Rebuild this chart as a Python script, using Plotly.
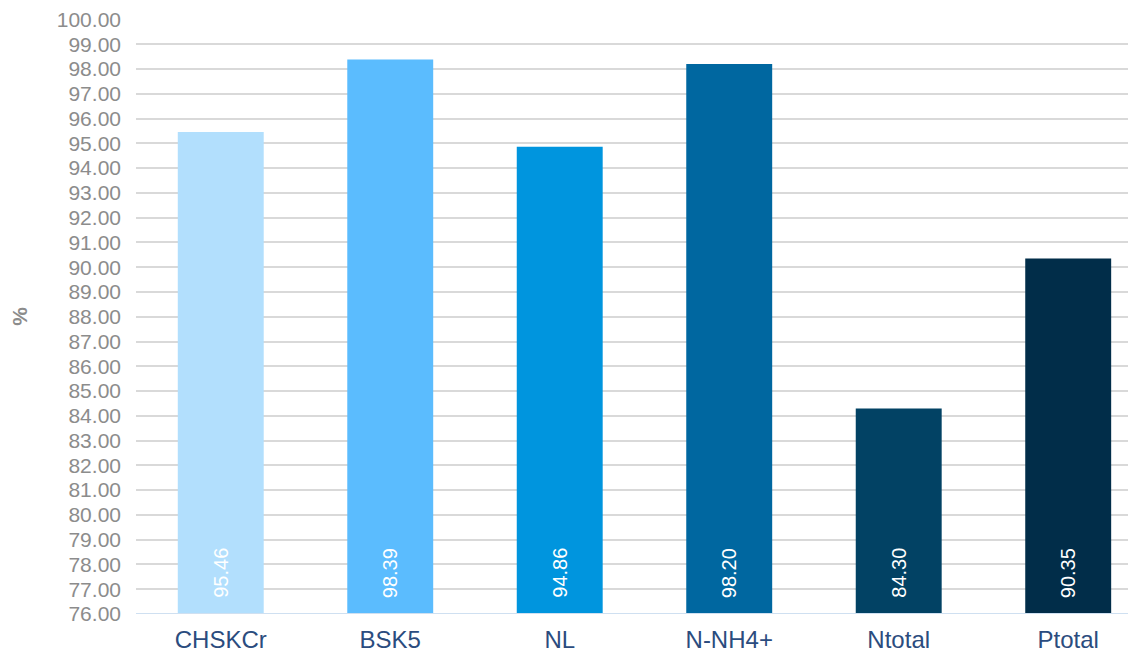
import plotly.graph_objects as go

categories = ["CHSKCr", "BSK5", "NL", "N-NH4+", "Ntotal", "Ptotal"]
values = [95.46, 98.39, 94.86, 98.20, 84.30, 90.35]
bar_colors = ["#b2dffd", "#5bbcfe", "#0095de", "#0067a0", "#024264", "#012d49"]
y_ticks = [76 + i for i in range(25)]
y_base = 76

fig = go.Figure(
    go.Bar(
        x=categories,
        y=values,
        marker=dict(color=bar_colors, line=dict(width=0)),
        width=0.507,
        hoverinfo="x+y",
    )
)

# value labels written upward from the base of every bar
for cat, v in zip(categories, values):
    fig.add_annotation(
        x=cat, y=y_base, xref="x", yref="y",
        text=f"{v:.2f}", showarrow=False, textangle=-90,
        xanchor="center", yanchor="bottom", yshift=14,
        font=dict(family="Liberation Sans, Arial", size=20, color="white"),
    )

# the page body adds an 8px margin, so the margins are reduced by that much
fig.update_layout(
    width=1136,
    height=651,
    margin=dict(l=128, r=8, t=11, b=45),
    plot_bgcolor="white",
    paper_bgcolor="white",
    showlegend=False,
    font=dict(family="Liberation Sans, Arial"),
    xaxis=dict(
        range=[-0.5, 5.4],
        showgrid=False,
        tickfont=dict(size=24, color="#2b4c7e"),
        ticks="",
        showline=False,
        automargin=False,
        ticklabelstandoff=9,
    ),
    yaxis=dict(
        range=[y_base, 100.02],
        tickvals=y_ticks,
        tickformat=".2f",
        tickfont=dict(size=21, color="#8c8c8c"),
        ticklabeloverflow="allow",
        gridcolor="#d9d9d9",
        gridwidth=2,
        zeroline=False,
        showline=False,
        automargin=False,
        ticklabelstandoff=14,
        title=dict(text="<b>%</b>", font=dict(size=21, color="#8c8c8c"), standoff=82),
    ),
)

# light blue baseline at the bottom of the axis
fig.add_hline(y=y_base, line=dict(color="#cfe0f1", width=2))

fig.write_html("out.html")
